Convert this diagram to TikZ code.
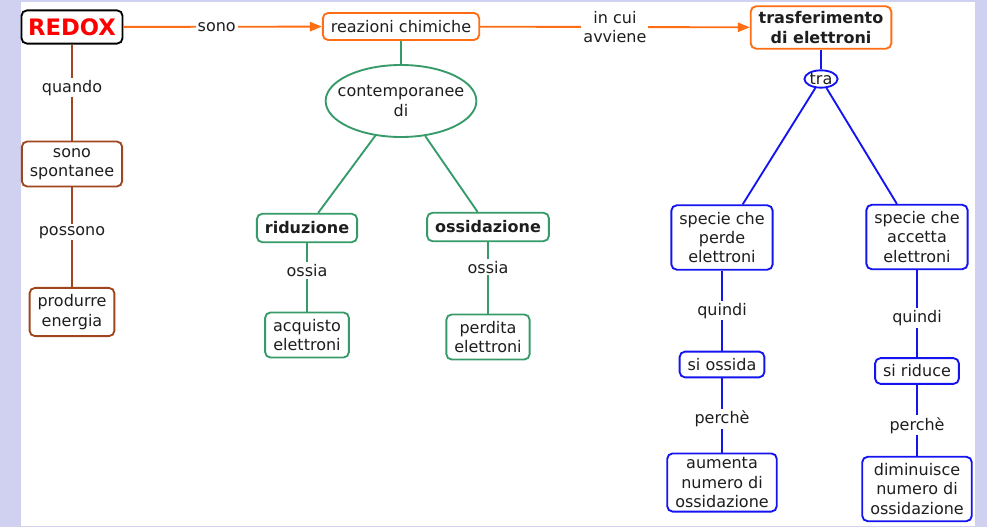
\documentclass[tikz,border=0pt]{standalone}
\usepackage{fontspec}
\setmainfont{DejaVu Sans}
\usepackage{xcolor}
\usepackage{tikz}
\usetikzlibrary{arrows.meta,shapes.geometric}

\definecolor{bgviola}{RGB}{208,208,240}
\definecolor{arancio}{RGB}{255,110,20}
\definecolor{marrone}{RGB}{160,70,30}
\definecolor{verde}{RGB}{55,155,105}
\definecolor{blu}{RGB}{20,20,240}
\definecolor{testo}{RGB}{30,30,30}

\begin{document}
\begin{tikzpicture}[x=0.75pt, y=-0.75pt,
  box/.style={draw, line width=1.4pt, rounded corners=4pt, fill=white, text=testo,
    font=\fontsize{12}{14.5}\selectfont, align=center, inner xsep=6pt, inner ysep=5pt},
  ell/.style={box, ellipse, rounded corners=0pt, inner sep=0pt},
  lbl/.style={fill=white, text=testo, font=\fontsize{12}{14.5}\selectfont, align=center, inner sep=1.5pt},
  arrow/.style={-{Triangle[length=9pt, width=7pt]}, line width=1.4pt, arancio},
  link/.style={line width=1.4pt}]

% sfondo e margini
\fill[bgviola] (0,0) rectangle (987,527);
\fill[white] (21,2) rectangle (975,526);

% riga in alto
\node[box, draw=black, font=\fontsize{17}{18}\selectfont\bfseries, text=red, inner ysep=6pt, inner xsep=5pt] (redox) at (72,27) {REDOX};
\node[box, draw=arancio, inner ysep=5.5pt] (reaz) at (401,26.5) {reazioni chimiche};
\node[box, draw=arancio, font=\fontsize{12}{14.5}\selectfont\bfseries, inner ysep=4pt] (trasf) at (821,27.5) {trasferimento\\di elettroni};

\draw[arrow] (redox) -- node[lbl, pos=0.47] {sono} (reaz);
\draw[arrow] (reaz) -- node[lbl] {in cui\\avviene} (trasf);

% colonna marrone
\node[box, draw=marrone] (spont) at (72,164) {sono\\spontanee};
\node[box, draw=marrone] (prod) at (72,312) {produrre\\energia};
\draw[link, marrone] (redox) -- node[lbl, pos=0.45] {quando} (spont);
\draw[link, marrone] (spont) -- node[lbl, pos=0.45] {possono} (prod);

% ramo verde
\node[ell, draw=verde, inner xsep=-7.5pt, minimum height=54pt] (cont) at (401,101) {contemporanee\\di};
\node[box, draw=verde, font=\fontsize{12}{14.5}\selectfont\bfseries, inner ysep=6pt] (ridu) at (307,228) {riduzione};
\node[box, draw=verde, font=\fontsize{12}{14.5}\selectfont\bfseries, inner ysep=6pt] (ossi) at (488,227) {ossidazione};
\node[box, draw=verde] (acq) at (307,335) {acquisto\\elettroni};
\node[box, draw=verde] (perd) at (488,337) {perdita\\elettroni};
\draw[link, verde] (reaz) -- (cont);
\draw[link, verde] (cont) -- (ridu);
\draw[link, verde] (cont) -- (ossi);
\draw[link, verde] (ridu) -- node[lbl, pos=0.4] {ossia} (acq);
\draw[link, verde] (ossi) -- node[lbl, pos=0.35] {ossia} (perd);

% ramo blu
\node[ell, draw=blu, inner sep=0.3pt] (tra) at (821,79) {tra};
\node[box, draw=blu] (sperde) at (722,237.5) {specie che\\perde\\elettroni};
\node[box, draw=blu] (sossida) at (722,364.5) {si ossida};
\node[box, draw=blu, inner ysep=3pt] (aumenta) at (722,482.5) {aumenta\\numero di\\ossidazione};
\node[box, draw=blu] (saccetta) at (917,237) {specie che\\accetta\\elettroni};
\node[box, draw=blu] (sriduce) at (917,371) {si riduce};
\node[box, draw=blu] (dimin) at (917,489) {diminuisce\\numero di\\ossidazione};
\draw[link, blu] (trasf) -- (tra);
\draw[link, blu] (tra) -- (sperde);
\draw[link, blu] (tra) -- (saccetta);
\draw[link, blu] (sperde) -- node[lbl] {quindi} (sossida);
\draw[link, blu] (sossida) -- node[lbl, pos=0.55] {perchè} (aumenta);
\draw[link, blu] (saccetta) -- node[lbl, pos=0.55] {quindi} (sriduce);
\draw[link, blu] (sriduce) -- node[lbl, pos=0.57] {perchè} (dimin);
\end{tikzpicture}
\end{document}
